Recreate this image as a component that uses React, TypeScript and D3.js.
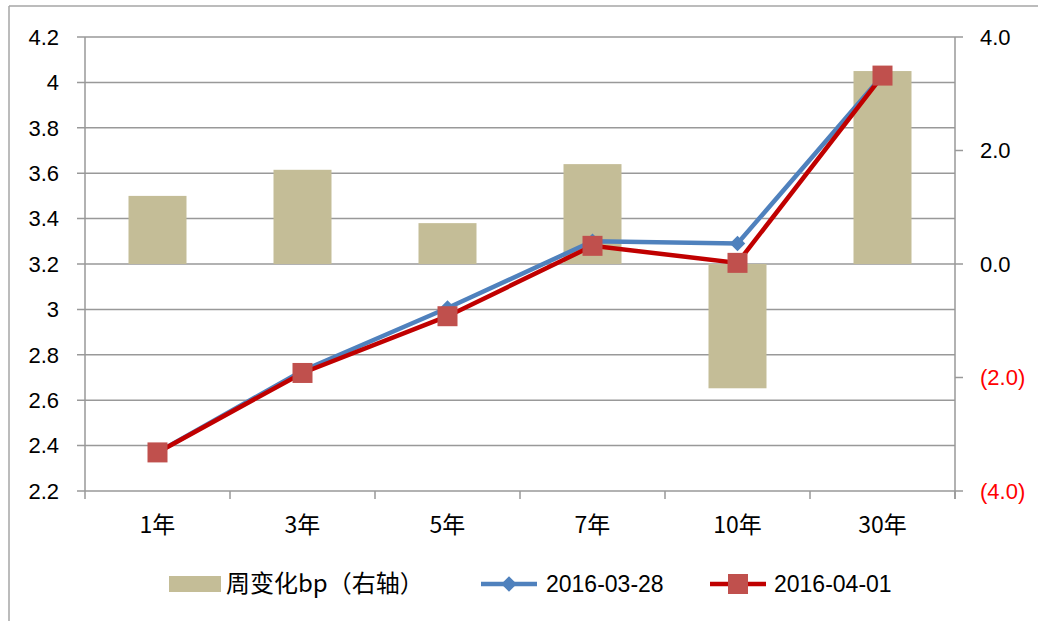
import React from 'react';
import * as d3 from 'd3';

const categories = ['1年', '3年', '5年', '7年', '10年', '30年'];
const weeklyChangeBp = [1.2, 1.66, 0.72, 1.76, -2.19, 3.4];
const yield0328 = [2.37, 2.73, 3.006, 3.3, 3.29, 4.03];
const yield0401 = [2.37, 2.72, 2.97, 3.28, 3.205, 4.03];
const leftTicks = [2.2, 2.4, 2.6, 2.8, 3, 3.2, 3.4, 3.6, 3.8, 4, 4.2];
const rightTicks = [-4, -2, 0, 2, 4];

const W = 1038;
const H = 621;
const margin = { top: 37, right: 83, bottom: 130, left: 85 };
const font = '"Liberation Sans", Arial, sans-serif';
const cjkFont = '"Noto Sans CJK SC", "Liberation Sans", sans-serif';

const fmtRight = (v: number) => (v < 0 ? `(${Math.abs(v).toFixed(1)})` : v.toFixed(1));

const App: React.FC = () => {
  const x = d3
    .scaleBand<string>()
    .domain(categories)
    .range([margin.left, W - margin.right])
    .paddingInner(0)
    .paddingOuter(0);
  const yL = d3.scaleLinear().domain([2.2, 4.2]).range([H - margin.bottom, margin.top]);
  const yR = d3.scaleLinear().domain([-4, 4]).range([H - margin.bottom, margin.top]);
  const barW = x.bandwidth() * 0.4;
  const cx = (c: string) => (x(c) as number) + x.bandwidth() / 2;

  const line = d3
    .line<number>()
    .x((_, i) => cx(categories[i]))
    .y(d => yL(d));

  const x0 = margin.left;
  const x1 = W - margin.right;
  const yBottom = H - margin.bottom;
  const legY = 584;

  return (
    <svg width={W} height={H} style={{ position: 'absolute', left: 0, top: 0, background: '#fff' }}>
      {/* frame */}
      <line x1={9} y1={6} x2={W} y2={6} stroke="#a6a6a6" strokeWidth={1.5} />
      <line x1={9} y1={6} x2={9} y2={H} stroke="#a6a6a6" strokeWidth={1.5} />

      {/* grid + left ticks */}
      {leftTicks.map(t => (
        <g key={t}>
          <line x1={x0 - 8} x2={x1} y1={yL(t)} y2={yL(t)} stroke="#999" strokeWidth={1.5} />
          <text x={59} y={yL(t)} dy="0.35em" textAnchor="end" fontFamily={font} fontSize={22} fill="#000">
            {d3.format('~g')(t)}
          </text>
        </g>
      ))}

      {/* bars */}
      {categories.map((c, i) => {
        const v = weeklyChangeBp[i];
        return (
          <rect
            key={c}
            x={cx(c) - barW / 2}
            y={Math.min(yR(v), yR(0))}
            width={barW}
            height={Math.abs(yR(v) - yR(0))}
            fill="#c4bd97"
          />
        );
      })}

      {/* axes */}
      <line x1={x0} x2={x0} y1={margin.top} y2={yBottom + 8} stroke="#999" strokeWidth={1.5} />
      <line x1={x1} x2={x1} y1={margin.top} y2={yBottom + 8} stroke="#999" strokeWidth={1.5} />
      {categories.map(c => (
        <line
          key={c}
          x1={(x(c) as number) + x.bandwidth()}
          x2={(x(c) as number) + x.bandwidth()}
          y1={yBottom}
          y2={yBottom + 8}
          stroke="#999"
          strokeWidth={1.5}
        />
      ))}
      {rightTicks.map(t => (
        <g key={t}>
          <line x1={x1} x2={x1 + 8} y1={yR(t)} y2={yR(t)} stroke="#999" strokeWidth={1.5} />
          <text x={980} y={yR(t)} dy="0.35em" fontFamily={font} fontSize={22} fill={t < 0 ? '#ff0000' : '#000'}>
            {fmtRight(t)}
          </text>
        </g>
      ))}
      {categories.map(c => (
        <text key={c} x={cx(c)} y={525} dy="0.35em" textAnchor="middle" fontFamily={cjkFont} fontSize={23} fill="#000">
          {c}
        </text>
      ))}

      {/* lines */}
      <path d={line(yield0328) as string} fill="none" stroke="#4f81bd" strokeWidth={4.5} />
      {yield0328.map((v, i) => (
        <rect
          key={i}
          x={-5.5}
          y={-5.5}
          width={11}
          height={11}
          fill="#4f81bd"
          transform={`translate(${cx(categories[i])},${yL(v)}) rotate(45)`}
        />
      ))}
      <path d={line(yield0401) as string} fill="none" stroke="#c00000" strokeWidth={4.5} />
      {yield0401.map((v, i) => (
        <rect key={i} x={cx(categories[i]) - 10} y={yL(v) - 10} width={20} height={20} fill="#c0504d" />
      ))}

      {/* legend */}
      <g fontFamily={font} fontSize={23} fill="#000">
        <rect x={169} y={576} width={52} height={16} fill="#c4bd97" />
        <text x={226} y={legY} dy="0.35em" fontFamily={cjkFont} fontSize={24}>
          周变化bp（右轴）
        </text>
        <line x1={481} x2={537} y1={legY} y2={legY} stroke="#4f81bd" strokeWidth={4.5} />
        <rect x={-5.5} y={-5.5} width={11} height={11} fill="#4f81bd" transform={`translate(509,${legY}) rotate(45)`} />
        <text x={546} y={legY} dy="0.35em">2016-03-28</text>
        <line x1={710} x2={766} y1={legY} y2={legY} stroke="#c00000" strokeWidth={4.5} />
        <rect x={728} y={legY - 10} width={20} height={20} fill="#c0504d" />
        <text x={774} y={legY} dy="0.35em">2016-04-01</text>
      </g>
    </svg>
  );
};

export default App;
